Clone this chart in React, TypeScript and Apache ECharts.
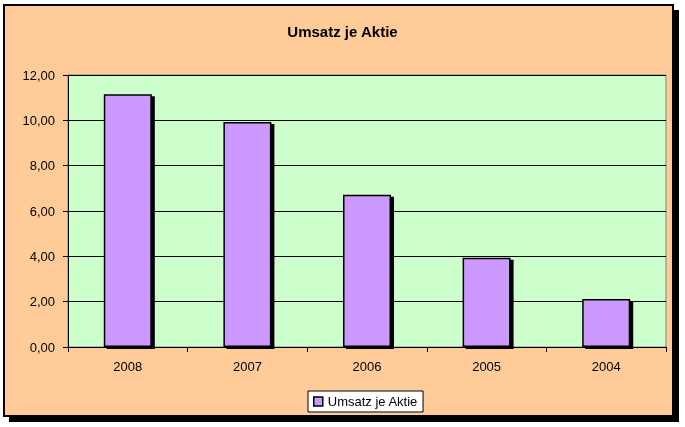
import React, { useEffect, useRef } from "react";
import * as echarts from "echarts";

const categories = ["2008", "2007", "2006", "2005", "2004"];
const values = [11.15, 9.93, 6.72, 3.94, 2.12];
const seriesName = "Umsatz je Aktie";
const title = "Umsatz je Aktie";

export default function App() {
  const ref = useRef<HTMLDivElement>(null);
  useEffect(() => {
    if (!ref.current) return;
    const chart = echarts.init(ref.current, null, { renderer: "svg" });
    const font = "'Liberation Sans', Arial, sans-serif";
    chart.setOption({
      animation: false,
      backgroundColor: "transparent",
      textStyle: { fontFamily: font },
      graphic: [
        { type: "rect", z: -10, silent: true, shape: { x: 9, y: 10, width: 670, height: 412 }, style: { fill: "#000" } },
        { type: "rect", z: -9, silent: true, shape: { x: 4, y: 5, width: 669, height: 411 }, style: { fill: "#FFCC99", stroke: "#000", lineWidth: 2 } },
      ],
      title: {
        text: title,
        left: "center",
        top: 19,
        textStyle: { fontFamily: font, fontSize: 15, fontWeight: "bold", color: "#000" },
      },
      legend: {
        top: 391,
        left: 308,
        itemWidth: 9,
        itemHeight: 9,
        itemGap: 5,
        icon: "rect",
        backgroundColor: "#fff",
        borderColor: "#000",
        borderWidth: 1,
        borderRadius: 0,
        padding: [4, 5, 4, 5],
        textStyle: { fontFamily: font, fontSize: 13, color: "#000" },
        itemStyle: { borderColor: "#000", borderWidth: 1.5 },
      },
      grid: {
        left: 68,
        right: 19,
        top: 75,
        bottom: 80,
        show: true,
        backgroundColor: "#CCFFCC",
        borderColor: "#808080",
        borderWidth: 1,
      },
      xAxis: {
        type: "category",
        data: categories,
        boundaryGap: true,
        axisLine: { show: true, lineStyle: { color: "#000", width: 1 } },
        axisTick: { show: true, alignWithLabel: false, length: 5, lineStyle: { color: "#000" } },
        axisLabel: { color: "#000", fontSize: 13, margin: 13, fontFamily: font },
      },
      yAxis: {
        type: "value",
        min: 0,
        max: 12,
        interval: 2,
        axisLine: { show: true, lineStyle: { color: "#000", width: 1 } },
        axisTick: { show: true, length: 5, lineStyle: { color: "#000" } },
        axisLabel: {
          color: "#000",
          fontSize: 13,
          margin: 13,
          fontFamily: font,
          formatter: (v: number) => v.toFixed(2).replace(".", ","),
        },
        splitLine: { show: true, lineStyle: { color: "#000", width: 1 } },
      },
      series: [
        {
          name: seriesName,
          type: "bar",
          data: values,
          barWidth: 48,
          itemStyle: {
            color: "#CC99FF",
            borderColor: "#000",
            borderWidth: 1.5,
            shadowColor: "#000",
            shadowOffsetX: 3,
            shadowOffsetY: 2,
            shadowBlur: 0,
          },
        },
      ],
    });
    return () => chart.dispose();
  }, []);
  return <div ref={ref} style={{ position: "fixed", left: 0, top: 0, width: 685, height: 427 }} />;
}
